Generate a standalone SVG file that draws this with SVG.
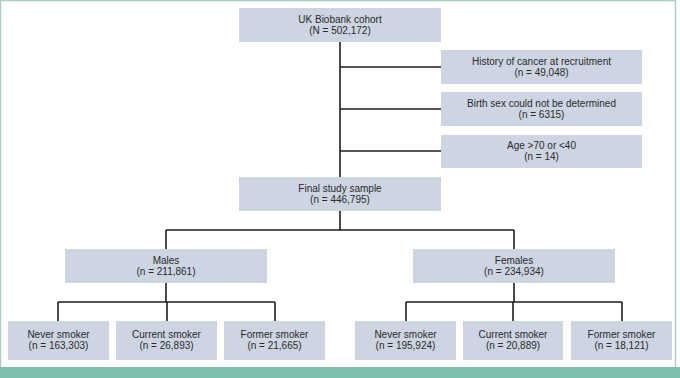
<svg xmlns="http://www.w3.org/2000/svg" width="680" height="378" viewBox="0 0 680 378">
<style>
.box{fill:#cdd5e2}
.t{font-family:"Liberation Sans",Arial,sans-serif;font-size:10px;fill:#2a2a2a;text-anchor:middle}
.c{stroke:#1e1e1e;stroke-width:1.6;fill:none}
</style>
<rect x="0" y="0" width="680" height="378" fill="#ffffff"/>
<rect x="0.5" y="0.5" width="675" height="370" fill="none" stroke="#a9cfc4" stroke-width="1.5"/>
<rect x="0" y="367" width="680" height="11" fill="#7dbfac"/>
<g id="connectors">
<path class="c" d="M340 42V177M340 67H441M340 109H441M340 151H441"/>
<path class="c" d="M340 211V230M166 230H514M166 230V249M514 230V249"/>
<path class="c" d="M166 283V302M58 302H275M58 302V321M167 302V321M275 302V321"/>
<path class="c" d="M514 283V302M406 302H622M406 302V321M513 302V321M622 302V321"/>
</g>
<g id="cohort"><rect class="box" x="239" y="8" width="202" height="34"/><text class="t" x="340" y="23">UK Biobank cohort</text><text class="t" x="340" y="34">(N = 502,172)</text></g>
<g id="ex1"><rect class="box" x="441" y="50" width="201" height="34"/><text class="t" x="541.5" y="65">History of cancer at recruitment</text><text class="t" x="541.5" y="76">(n = 49,048)</text></g>
<g id="ex2"><rect class="box" x="441" y="92" width="201" height="34"/><text class="t" x="541.5" y="107">Birth sex could not be determined</text><text class="t" x="541.5" y="118">(n = 6315)</text></g>
<g id="ex3"><rect class="box" x="441" y="135" width="201" height="33"/><text class="t" x="541.5" y="149">Age &gt;70 or &lt;40</text><text class="t" x="541.5" y="160">(n = 14)</text></g>
<g id="final"><rect class="box" x="239" y="177" width="202" height="34"/><text class="t" x="340" y="192">Final study sample</text><text class="t" x="340" y="203">(n = 446,795)</text></g>
<g id="males"><rect class="box" x="65" y="249" width="202" height="34"/><text class="t" x="166" y="264">Males</text><text class="t" x="166" y="275">(n = 211,861)</text></g>
<g id="females"><rect class="box" x="413" y="249" width="202" height="34"/><text class="t" x="514" y="264">Females</text><text class="t" x="514" y="275">(n = 234,934)</text></g>
<g id="m-never"><rect class="box" x="8" y="321" width="101" height="39"/><text class="t" x="58.5" y="338">Never smoker</text><text class="t" x="58.5" y="349">(n = 163,303)</text></g>
<g id="m-current"><rect class="box" x="116" y="321" width="101" height="39"/><text class="t" x="166.5" y="338">Current smoker</text><text class="t" x="166.5" y="349">(n = 26,893)</text></g>
<g id="m-former"><rect class="box" x="224" y="321" width="101" height="39"/><text class="t" x="274.5" y="338">Former smoker</text><text class="t" x="274.5" y="349">(n = 21,665)</text></g>
<g id="f-never"><rect class="box" x="355" y="321" width="101" height="39"/><text class="t" x="405.5" y="338">Never smoker</text><text class="t" x="405.5" y="349">(n = 195,924)</text></g>
<g id="f-current"><rect class="box" x="463" y="321" width="100" height="39"/><text class="t" x="513" y="338">Current smoker</text><text class="t" x="513" y="349">(n = 20,889)</text></g>
<g id="f-former"><rect class="box" x="571" y="321" width="101" height="39"/><text class="t" x="621.5" y="338">Former smoker</text><text class="t" x="621.5" y="349">(n = 18,121)</text></g>
</svg>
